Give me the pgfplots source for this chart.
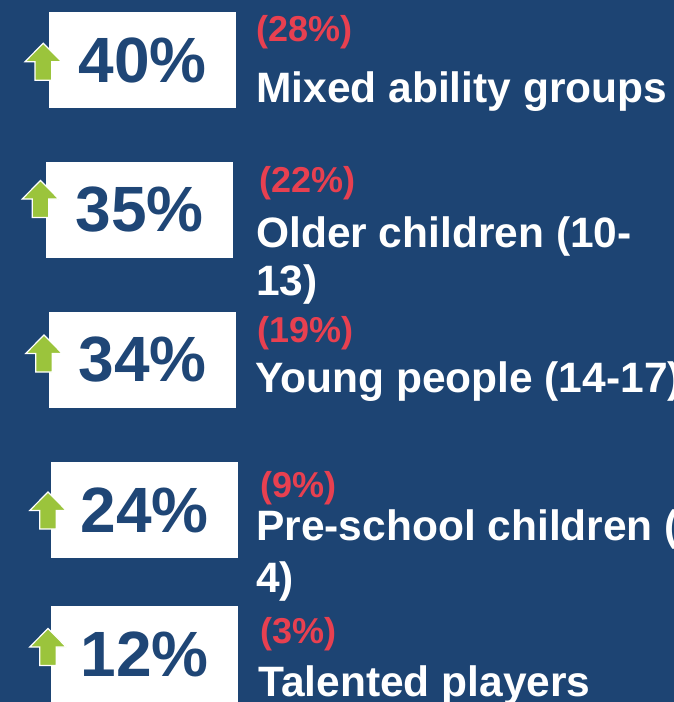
\documentclass[border=0pt]{standalone}
\usepackage{fontspec}
\setmainfont{Liberation Sans}
\usepackage{pgfplots}
\usepackage{pgfplotstable}
\pgfplotsset{compat=1.18}
\definecolor{bg}{RGB}{29,68,115}
\definecolor{numblue}{RGB}{31,70,118}
\definecolor{prevred}{RGB}{232,64,80}
\definecolor{arrgreen}{RGB}{155,196,60}
\pgfdeclareplotmark{uparr}{%
  \pgfpathmoveto{\pgfpoint{0bp}{18.5bp}}%
  \pgfpathlineto{\pgfpoint{18.3bp}{0bp}}%
  \pgfpathlineto{\pgfpoint{8.3bp}{0bp}}%
  \pgfpathlineto{\pgfpoint{8.3bp}{-18.5bp}}%
  \pgfpathlineto{\pgfpoint{-8.3bp}{-18.5bp}}%
  \pgfpathlineto{\pgfpoint{-8.3bp}{0bp}}%
  \pgfpathlineto{\pgfpoint{-18.3bp}{0bp}}%
  \pgfpathclose
  \pgfusepathqfillstroke}
% box centre (x,y), current share, earlier share
\pgfplotstableread{
bx    by     now  prev  ax    ay     px   py
142.5 60.0   40   28    43.3  61.7   256  42
139.5 209.5  35   22    40.5  199.0  259  192
142.5 360.0  34   19    44.0  353.5  257  342
144.5 510.0  24   9     48.0  510.5  260  497
144.5 654.0  12   3     48.0  647.0  260  643
}\datatable
\begin{document}
\begin{tikzpicture}
\path[use as bounding box] (0,0) rectangle (674bp,702bp);
\clip (0,0) rectangle (674bp,702bp);
\fill[bg] (0,0) rectangle (674bp,702bp);
\begin{axis}[
  at={(0,0)}, anchor=south west,
  scale only axis, width=674bp, height=702bp,
  xmin=0, xmax=674, ymin=0, ymax=702, y dir=reverse,
  hide axis, clip=false,
  /pgf/number format/assume math mode=true,
]
% white boxes with the current share
\addplot[only marks, mark=none, point meta=explicit,
  nodes near coords={\pgfmathprintnumber{\pgfplotspointmeta}\%},
  every node near coord/.style={anchor=center, fill=white, inner sep=0pt,
    minimum width=187bp, minimum height=96bp, text=numblue,
    font=\fontsize{64bp}{64bp}\selectfont\bfseries}]
  table[x=bx, y=by, meta=now] {\datatable};
% green arrows
\addplot[only marks, mark=uparr, mark options={fill=arrgreen, draw=white, line width=1.2bp}]
  table[x=ax, y=ay] {\datatable};
% earlier share in red
\addplot[only marks, mark=none, point meta=explicit,
  nodes near coords={(\pgfmathprintnumber{\pgfplotspointmeta}\%)},
  every node near coord/.style={anchor=base west, inner sep=0pt, text=prevred,
    font=\fontsize{36bp}{36bp}\selectfont\bfseries}]
  table[x=px, y=py, meta=prev] {\datatable};
% group labels
\addplot[only marks, mark=none, point meta=explicit symbolic,
  nodes near coords={\pgfplotspointmeta},
  every node near coord/.style={anchor=base west, inner sep=0pt, text=white,
    font=\fontsize{42.5bp}{42.5bp}\selectfont\bfseries}]
  coordinates {
  (256,102) [Mixed ability groups]
  (256,247) [Older children (10-]
  (256,295) [13)]
  (255,392) [Young people (14-17)]
  (256,540) [Pre-school children (0-]
  (256,592) [4)]
  (258,696) [Talented players]
  };
\end{axis}
\end{tikzpicture}
\end{document}
